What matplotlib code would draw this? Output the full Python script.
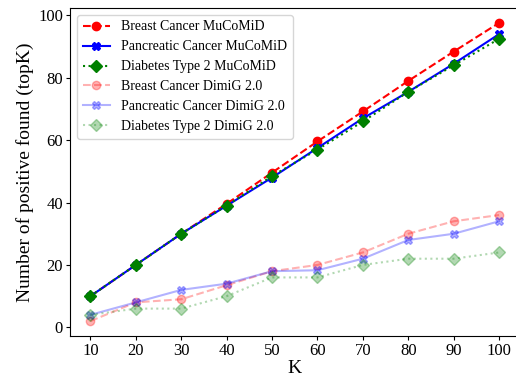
import matplotlib
matplotlib.use("Agg")
import matplotlib.pyplot as plt

plt.rcParams['font.family'] = ['Liberation Serif', 'DejaVu Serif']

# data
k_values = [10, 20, 30, 40, 50, 60, 70, 80, 90, 100]
breast_mucomid = [10, 20, 30, 39.6, 49.6, 59.6, 69.2, 79, 88.4, 97.6]
pancreatic_mucomid = [10, 20, 30, 39, 48, 57.5, 67, 75.5, 84.5, 94]
diabetes_mucomid = [10, 20, 30, 39, 48.5, 57, 66, 75.5, 84, 92.5]
breast_dimig = [2, 8, 9, 13.5, 18, 20, 24, 30, 34, 36]
pancreatic_dimig = [4, 8, 12, 14, 18, 18.3, 22, 28, 30, 34]
diabetes_dimig = [4, 6, 6, 10, 16, 16, 20, 22, 22, 24]

fig = plt.figure(figsize=(5.16, 3.79), dpi=100)
ax = fig.add_axes([70 / 516, 1 - 336 / 379, 449.5 / 516, 328 / 379])

# MuCoMiD series
ax.plot(k_values, breast_mucomid, 'r--', marker='o', markersize=6, label='Breast Cancer MuCoMiD')
ax.plot(k_values, pancreatic_mucomid, 'b-', marker='X', markersize=6, label='Pancreatic Cancer MuCoMiD')
ax.plot(k_values, diabetes_mucomid, 'g:', marker='D', markersize=6, label='Diabetes Type 2 MuCoMiD')

# DimiG 2.0 series (faded)
ax.plot(k_values, breast_dimig, 'r--', marker='o', markersize=6, alpha=0.3, label='Breast Cancer DimiG 2.0')
ax.plot(k_values, pancreatic_dimig, 'b-', marker='X', markersize=6, alpha=0.3, label='Pancreatic Cancer DimiG 2.0')
ax.plot(k_values, diabetes_dimig, 'g:', marker='D', markersize=6, alpha=0.3, label='Diabetes Type 2 DimiG 2.0')

ax.set_xticks(k_values)
ax.set_yticks([0, 20, 40, 60, 80, 100])
ax.tick_params(labelsize=12, length=3, pad=2)
ax.set_xlabel('K', fontsize=14, labelpad=1)
ax.set_ylabel('Number of positive found (topK)', fontsize=14, labelpad=3)
ax.legend(loc='upper left', fontsize=10)

fig.savefig("out.png", dpi=100)
